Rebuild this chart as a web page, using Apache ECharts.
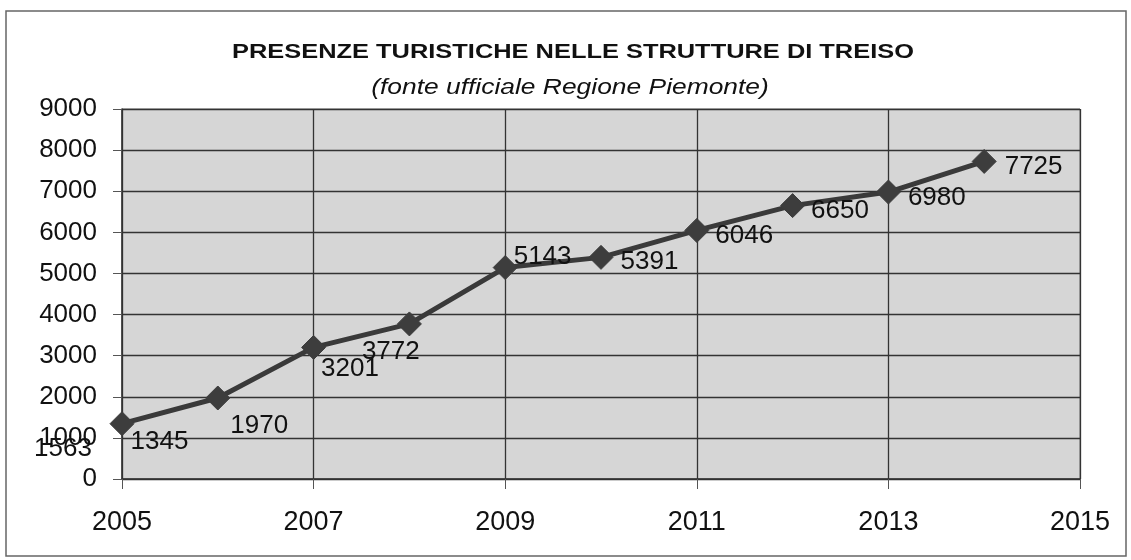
<!DOCTYPE html>
<html>
<head>
<meta charset="utf-8">
<script src="https://cdn.jsdelivr.net/npm/echarts@6/dist/echarts.min.js"></script>
<style>
html,body{margin:0;padding:0;background:#fff;}
#c{width:1131px;height:560px;}
</style>
</head>
<body>
<div id="c"></div>
<script>
const titleText = 'PRESENZE TURISTICHE NELLE STRUTTURE DI TREISO';
const subtitleText = '(fonte ufficiale Regione Piemonte)';
const years = [2005, 2006, 2007, 2008, 2009, 2010, 2011, 2012, 2013, 2014];
const presenze = [1345, 1970, 3201, 3772, 5143, 5391, 6046, 6650, 6980, 7725];
const strayLabel = '1563';
// label placement tweaks (style only)
const labelOffsets = [[-8,18],[-4,28],[-9,21],[-64,28],[-8,-11],[3,4],[2,5],[2,5],[3,6],[4,5]];

const chart = echarts.init(document.getElementById('c'), null, {renderer:'canvas'});
const font = 'Liberation Sans, Arial, sans-serif';
chart.setOption({
  animation:false,
  backgroundColor:'#fff',
  grid:{left:122,right:51,top:109,height:370,show:true,backgroundColor:'#d6d6d6',borderColor:'#777',borderWidth:1},
  xAxis:{
    type:'value',min:2005,max:2015,interval:2,
    axisLine:{show:true,lineStyle:{color:'#333',width:1.5}},
    axisTick:{show:true,inside:false,length:10,lineStyle:{color:'#555',width:1}},
    axisLabel:{margin:30,fontFamily:font,fontSize:27,color:'#111',formatter:v=>String(v)},
    splitLine:{show:true,lineStyle:{color:'#333',width:1.3}}
  },
  yAxis:{
    type:'value',min:0,max:9000,interval:1000,
    axisLine:{show:true,lineStyle:{color:'#333',width:1.5}},
    axisTick:{show:true,inside:false,length:9,lineStyle:{color:'#555',width:1}},
    axisLabel:{margin:25,fontFamily:font,fontSize:26,color:'#111',formatter:v=>String(v)},
    splitLine:{show:true,lineStyle:{color:'#333',width:1.3}}
  },
  series:[{
    type:'line',
    data:years.map((y,i)=>({value:[y,presenze[i]],label:{offset:labelOffsets[i]}})),
    symbol:'diamond',symbolSize:24,
    lineStyle:{color:'#3a3a3a',width:5},
    itemStyle:{color:'#3d3d3d',borderColor:'#3d3d3d'},
    label:{show:true,position:'right',distance:4,fontFamily:font,fontSize:26,color:'#111',
      formatter:p=>String(p.value[1])}
  }],
  graphic:[
    {type:'rect',shape:{x:6,y:11,width:1120,height:545},style:{fill:'none',stroke:'#666',lineWidth:1.5},silent:true,z:-1},
    {type:'text',x:573,y:52,scaleX:1.21,style:{text:titleText,fontFamily:font,fontSize:21,fontWeight:'bold',fill:'#111',textAlign:'center',textVerticalAlign:'middle'}},
    {type:'text',x:570,y:88,scaleX:1.2,style:{text:subtitleText,fontFamily:font,fontSize:22,fontStyle:'italic',fill:'#111',textAlign:'center',textVerticalAlign:'middle'}},
    {type:'text',left:34,top:436,style:{text:strayLabel,fontFamily:font,fontSize:26,fill:'#111'}}
  ]
});
</script>
</body>
</html>
